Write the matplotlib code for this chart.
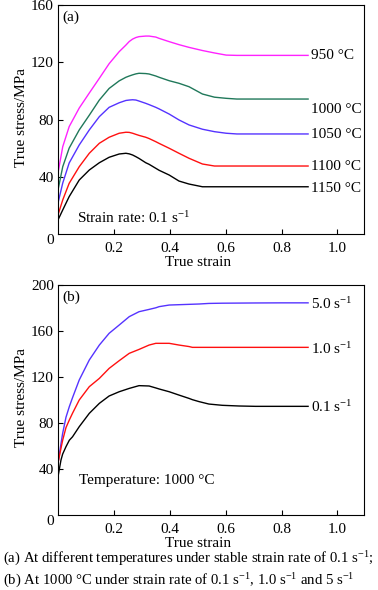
import matplotlib
matplotlib.use("Agg")
import matplotlib.pyplot as plt

plt.rcParams['font.family'] = ['Liberation Serif', 'DejaVu Serif']
plt.rcParams['mathtext.fontset'] = 'custom'
plt.rcParams['mathtext.rm'] = 'Liberation Serif'
plt.rcParams['mathtext.it'] = 'Liberation Serif:italic'
plt.rcParams['mathtext.default'] = 'rm'

# ---------------- Panel (a): different temperatures, 0.1 s^-1 ----------------
strain_a = [0.0, 0.017, 0.040, 0.076, 0.112, 0.148, 0.183, 0.219, 0.243, 0.255,
            0.267, 0.279, 0.290, 0.314, 0.326, 0.350, 0.362, 0.398, 0.433, 0.469,
            0.517, 0.560, 0.602, 0.640, 0.700, 0.800, 0.895]
stress_950 = [42.6, 61.0, 75.0, 88.0, 98.5, 108.8, 119.0, 127.4, 132.0, 134.5,
              136.2, 137.3, 137.9, 138.3, 138.3, 137.6, 136.7, 134.4, 132.3, 130.4,
              128.2, 126.5, 125.0, 124.8, 124.8, 124.8, 124.8]
stress_1000 = [30.7, 47.0, 60.0, 72.7, 83.0, 93.6, 101.7, 107.0, 109.5, 110.4,
               111.2, 111.9, 112.3, 112.1, 111.8, 110.4, 109.5, 107.1, 105.3, 102.9,
               97.8, 95.6, 94.8, 94.3, 94.3, 94.3, 94.3]
stress_1050 = [21.6, 35.6, 49.6, 62.2, 72.7, 82.0, 88.5, 91.7, 93.3, 93.6,
               93.8, 93.6, 92.9, 91.3, 90.4, 88.5, 87.4, 83.8, 79.7, 76.2,
               73.2, 71.5, 70.4, 69.9, 69.9, 69.9, 69.9]
stress_1100 = [13.3, 23.8, 35.4, 47.0, 56.4, 63.4, 67.6, 70.4, 71.1, 71.0,
               70.4, 69.6, 68.9, 67.6, 66.7, 64.5, 63.3, 59.9, 56.4, 52.9,
               48.9, 47.5, 47.5, 47.5, 47.5, 47.5, 47.5]
stress_1150 = [9.8, 16.8, 26.1, 37.7, 44.7, 49.8, 53.6, 55.9, 56.4, 56.0,
               55.2, 54.0, 52.8, 49.8, 48.7, 45.9, 44.5, 41.2, 37.0, 34.9,
               33.0, 33.0, 33.0, 33.0, 33.0, 33.0, 33.0]
labels_a = ['950 \u00b0C', '1000 \u00b0C', '1050 \u00b0C', '1100 \u00b0C', '1150 \u00b0C']
label_y_a = [124.4, 87.3, 69.2, 47.5, 32.1]
colors_a = ['#FF22FF', '#20785A', '#5533FF', '#FF1010', '#000000']

# ---------------- Panel (b): 1000 C, different strain rates ----------------
strain_b = [0.0, 0.0107, 0.0167, 0.0286, 0.0405, 0.052, 0.076, 0.112, 0.148, 0.183,
            0.219, 0.255, 0.290, 0.326, 0.350, 0.362, 0.398, 0.433, 0.469, 0.481,
            0.505, 0.540, 0.588, 0.648, 0.707, 0.800, 0.895]
stress_5 = [45.0, 62.0, 71.0, 85.0, 94.2, 102.0, 117.4, 134.8, 147.8, 158.0,
            165.2, 172.5, 176.8, 178.8, 180.2, 181.2, 182.6, 182.9, 183.2, 183.3,
            183.5, 184.0, 184.2, 184.3, 184.4, 184.5, 184.5]
stress_1 = [45.0, 58.0, 65.0, 76.0, 82.6, 88.5, 100.0, 111.6, 118.8, 127.5,
            134.2, 140.6, 144.0, 147.8, 149.3, 149.3, 149.3, 147.8, 146.5, 145.8,
            145.8, 145.8, 145.8, 145.8, 145.8, 145.8, 145.8]
stress_01 = [33.3, 47.8, 53.0, 59.4, 65.0, 68.0, 76.8, 88.4, 97.1, 103.5,
             107.2, 110.1, 112.5, 112.2, 110.5, 109.6, 107.2, 104.3, 101.4, 100.3,
             98.6, 96.5, 95.4, 94.8, 94.5, 94.5, 94.5]
labels_b = ['5.0 s$^{-1}$', '1.0 s$^{-1}$', '0.1 s$^{-1}$']
label_y_b = [183.5, 144.3, 93.9]
colors_b = ['#5533FF', '#FF1010', '#000000']

caption1 = '(a) At different temperatures under stable strain rate of 0.1 s$^{-1}$;'
caption2 = ('(b) At 1000 \u00b0C under strain rate of 0.1 s$^{-1}$, 1.0 s$^{-1}$ '
            'and 5 s$^{-1}$')

FS = 11

fig = plt.figure(figsize=(3.78, 5.90), dpi=100)
ax1 = fig.add_axes([0.1534, 0.6034, 0.8095, 0.3881])
ax2 = fig.add_axes([0.1534, 0.1271, 0.8095, 0.3898])


def style(ax, ymax, yticks):
    ax.set_xlim(0, 1.095)
    ax.set_ylim(0, ymax)
    ax.set_xticks([0.2, 0.4, 0.6, 0.8, 1.0])
    ax.set_xticklabels(['0.2', '0.4', '0.6', '0.8', '1.0'])
    ax.set_yticks(yticks)
    ax.set_yticklabels([str(v) for v in yticks])
    ax.tick_params(direction='in', length=3.5, width=0.8, labelsize=FS,
                   top=False, right=False)
    ax.tick_params(axis='x', pad=5.5)
    ax.tick_params(axis='y', pad=3)
    for s in ax.spines.values():
        s.set_linewidth(0.8)
    ax.text(-0.012, -0.028, '0', transform=ax.transAxes, ha='right', va='center',
            fontsize=FS)
    ax.set_xlabel('True strain', fontsize=FS)
    ax.xaxis.set_label_coords(0.5 / 1.095, -0.095)
    ax.text(-0.118, 0.51, 'True stress/MPa', transform=ax.transAxes, rotation=90,
            ha='center', va='center', fontsize=FS)


series_a = [stress_950, stress_1000, stress_1050, stress_1100, stress_1150]
for ys, c, lab, ly in zip(series_a, colors_a, labels_a, label_y_a):
    ax1.plot(strain_a, ys, color=c, lw=1.0)
    ax1.text(0.907, ly, lab, ha='left', va='center', fontsize=FS)
style(ax1, 160, [40, 80, 120, 160])
ax1.text(0.015, 0.945, '(a)', transform=ax1.transAxes, ha='left', va='center',
         fontsize=FS)
ax1.text(0.062, 0.07, 'Strain rate: 0.1 s$^{-1}$', transform=ax1.transAxes,
         ha='left', va='center', fontsize=FS)

series_b = [stress_5, stress_1, stress_01]
for ys, c, lab, ly in zip(series_b, colors_b, labels_b, label_y_b):
    ax2.plot(strain_b, ys, color=c, lw=1.0)
    ax2.text(0.907, ly, lab, ha='left', va='center', fontsize=FS)
style(ax2, 200, [40, 80, 120, 160, 200])
ax2.text(0.015, 0.948, '(b)', transform=ax2.transAxes, ha='left', va='center',
         fontsize=FS)
ax2.text(0.069, 0.148, 'Temperature: 1000 \u00b0C', transform=ax2.transAxes,
         ha='left', va='center', fontsize=FS)

fig.text(0.008, 1 - 559 / 590, caption1, ha='left', va='center', fontsize=10.6)
fig.text(0.008, 1 - 581 / 590, caption2, ha='left', va='center', fontsize=10.6)

fig.savefig('out.png', dpi=100)
